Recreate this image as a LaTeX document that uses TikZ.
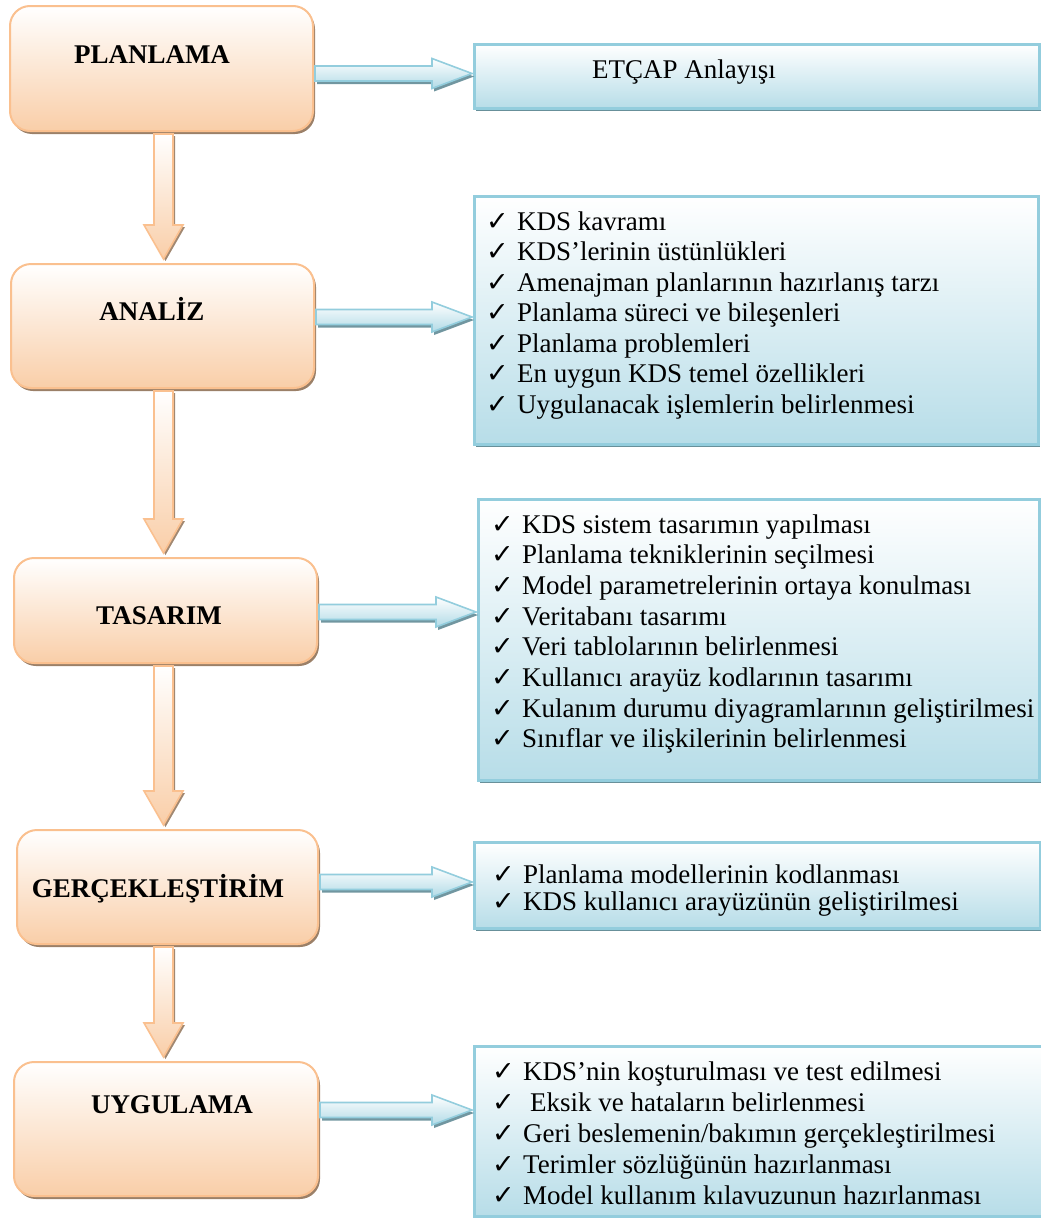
\documentclass[tikz,border=0pt]{standalone}
\usepackage{fontspec}
\setmainfont{Liberation Serif}
\newfontfamily\symfont{DejaVu Sans}
\usetikzlibrary{calc,shadows}
\definecolor{peach}{HTML}{F9CEA8}
\definecolor{peachline}{HTML}{FAC08F}
\definecolor{lshadow}{HTML}{8A6A4E}
\definecolor{bluefill}{HTML}{B7DDE8}
\definecolor{blueline}{HTML}{93CDDD}
\definecolor{rshadow}{HTML}{4E7C88}
\newcommand\chk{{\symfont\fontsize{27}{27}\selectfont ✓}}
\newcommand\listlines[5]{\foreach \itm [count=\i from 0] in {#5}{\node[ltxt, anchor=base west] (#1-\i) at ({#2-31}, {#3+\i*#4}) {\makebox[31pt][l]{\chk}\itm};}}
\newcommand\varrow[2]{\draw[varr] let \p3=(ax), \p1=(#1.south), \p2=(#2.north) in
  (\x3-9.5,\y1-2) -- (\x3+9.5,\y1-2) -- (\x3+9.5,\y2+38) -- (\x3+19.5,\y2+38) -- (\x3,\y2+4) -- (\x3-19.5,\y2+38) -- (\x3-9.5,\y2+38) -- cycle;}
\newcommand\harrow[3]{\draw[harr] let \p1=(#1.east), \p2=(#2.west), \p3=(0,#3) in
  (\x1+1,\y3+7.5) -- (\x2-41,\y3+7.5) -- (\x2-41,\y3+15) -- (\x2-1,\y3) -- (\x2-41,\y3-15) -- (\x2-41,\y3-7.5) -- (\x1+1,\y3-7.5) -- cycle;}
\begin{document}
\begin{tikzpicture}[x=1pt,y=-1pt,
  lbox/.style={draw=peachline, line width=2pt, rounded corners=20pt, top color=white, bottom color=peach,
    inner sep=0pt, anchor=north west,
    drop shadow={shadow xshift=2pt, shadow yshift=-3pt, fill=lshadow, opacity=.85}},
  rbox/.style={draw=blueline, line width=2.5pt, top color=white, bottom color=bluefill,
    inner sep=0pt, anchor=north west,
    drop shadow={shadow xshift=2pt, shadow yshift=-3pt, fill=rshadow, opacity=.85}},
  lbl/.style={font=\bfseries\fontsize{27}{30}\selectfont, inner sep=0pt, anchor=base},
  ltxt/.style={font=\fontsize{27}{30}\selectfont, inner sep=0pt},
  varr/.style={draw=peachline, line width=1.6pt, top color=white, bottom color=peach,
    drop shadow={shadow xshift=2pt, shadow yshift=-2pt, fill=lshadow, opacity=.8}},
  harr/.style={draw=blueline, line width=1.6pt, top color=white, bottom color=bluefill!85!blueline,
    drop shadow={shadow xshift=2pt, shadow yshift=-3pt, fill=rshadow, opacity=.8}}]
\useasboundingbox (0,0) rectangle (1041,1218);
\coordinate (ax) at (163.5,0);
% left boxes
\node[lbox, minimum width=303pt, minimum height=125pt] (P) at (9,5) {};
\node[lbox, minimum width=303pt, minimum height=124pt] (A) at (10,263) {};
\node[lbox, minimum width=303pt, minimum height=105pt] (T) at (13,557) {};
\node[lbox, minimum width=301pt, minimum height=114pt] (G) at (16,829) {};
\node[lbox, minimum width=304pt, minimum height=134pt] (U) at (13,1061) {};
\node[lbl] (Pl) at (152,63) {PLANLAMA};
\node[lbl] (Al) at (152,320) {ANALİZ};
\node[lbl] (Tl) at (159,624) {TASARIM};
\node[lbl] (Gl) at (158,897) {GERÇEKLEŞTİRİM};
\node[lbl] (Ul) at (172,1113) {UYGULAMA};
% right boxes
\node[rbox, minimum width=565pt, minimum height=64pt] (R1) at (473,43) {};
\node[rbox, minimum width=564pt, minimum height=248pt] (R2) at (473,195) {};
\node[rbox, minimum width=561pt, minimum height=281pt] (R3) at (477,498) {};
\node[rbox, minimum width=566pt, minimum height=86pt] (R4) at (473,841) {};
\node[rbox, minimum width=573pt, minimum height=170pt] (R5) at (473,1045) {};
\node[ltxt, anchor=base west] (R1t) at (592,78) {ETÇAP Anlayışı};
\listlines{R2l}{517}{230}{30.5}{KDS kavramı, KDS’lerinin üstünlükleri, Amenajman planlarının hazırlanış tarzı, Planlama süreci ve bileşenleri, Planlama problemleri, En uygun KDS temel özellikleri, Uygulanacak işlemlerin belirlenmesi}
\listlines{R3l}{522}{533}{30.7}{KDS sistem tasarımın yapılması, Planlama tekniklerinin seçilmesi, Model parametrelerinin ortaya konulması, Veritabanı tasarımı, Veri tablolarının belirlenmesi, Kullanıcı arayüz kodlarının tasarımı, Kulanım durumu diyagramlarının geliştirilmesi, Sınıflar ve ilişkilerinin belirlenmesi}
\listlines{R4l}{523}{883}{27}{Planlama modellerinin kodlanması, KDS kullanıcı arayüzünün geliştirilmesi}
\listlines{R5l}{523}{1080}{31}{KDS’nin koşturulması ve test edilmesi, \hspace{7pt}Eksik ve hataların belirlenmesi, Geri beslemenin/bakımın gerçekleştirilmesi, Terimler sözlüğünün hazırlanması, Model kullanım kılavuzunun hazırlanması}
% arrows
\varrow{P}{A}
\varrow{A}{T}
\varrow{T}{G}
\varrow{G}{U}
\harrow{P}{R1}{73.5}
\harrow{A}{R2}{317}
\harrow{T}{R3}{612}
\harrow{G}{R4}{882}
\harrow{U}{R5}{1110}
\end{tikzpicture}
\end{document}
